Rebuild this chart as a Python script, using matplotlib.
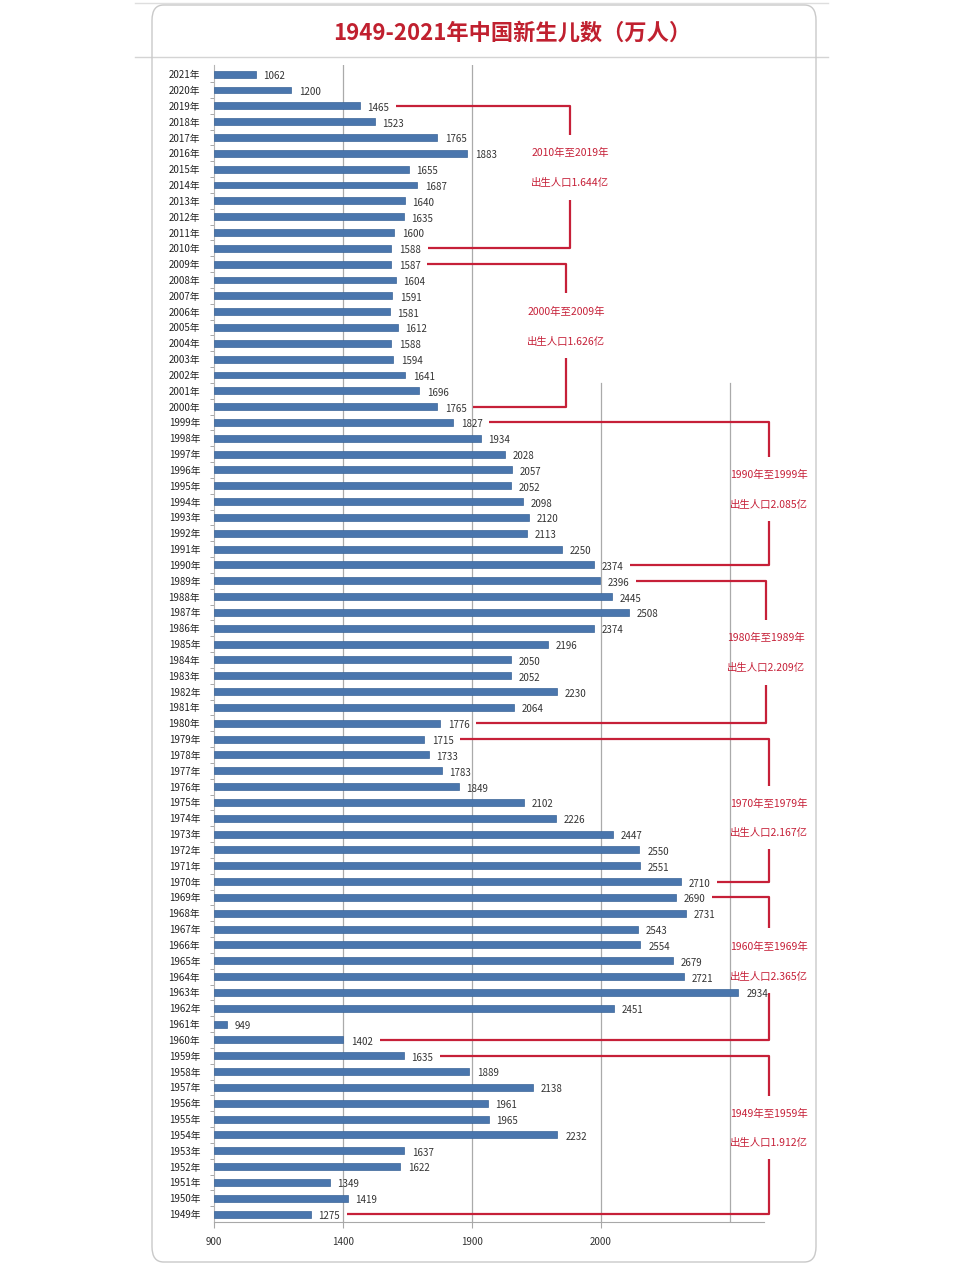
import matplotlib
matplotlib.use("Agg")
import matplotlib.pyplot as plt
from matplotlib.patches import FancyBboxPatch
from matplotlib.lines import Line2D
import numpy as np

plt.rcParams['font.family'] = ['Noto Sans CJK SC', 'DejaVu Sans']

# ---------------- data ----------------
years = list(range(1949, 2022))
births = [1275, 1419, 1349, 1622, 1637, 2232, 1965, 1961, 2138, 1889,
          1635, 1402, 949, 2451, 2934, 2721, 2679, 2554, 2543, 2731,
          2690, 2710, 2551, 2550, 2447, 2226, 2102, 1849, 1783, 1733,
          1715, 1776, 2064, 2230, 2052, 2050, 2196, 2374, 2508, 2445,
          2396, 2374, 2250, 2113, 2120, 2098, 2052, 2057, 2028, 1934,
          1827, 1765, 1696, 1641, 1594, 1588, 1612, 1581, 1591, 1604,
          1587, 1588, 1600, 1635, 1640, 1687, 1655, 1883, 1765, 1523,
          1465, 1200, 1062]
year_labels = [f"{y}年" for y in years]
xtick_values = [900, 1400, 1900, 2400]
xtick_labels = ["900", "1400", "1900", "2000"]
title = "1949-2021年中国新生儿数（万人）"

period_top = [2019, 2009, 1999, 1989, 1979, 1969, 1959]
period_bottom = [2010, 2000, 1990, 1980, 1970, 1960, 1949]
period_range_text = ["2010年至2019年", "2000年至2009年", "1990年至1999年",
                     "1980年至1989年", "1970年至1979年", "1960年至1969年",
                     "1949年至1959年"]
period_total_text = ["出生人口1.644亿", "出生人口1.626亿", "出生人口2.085亿",
                     "出生人口2.209亿", "出生人口2.167亿", "出生人口2.365亿",
                     "出生人口1.912亿"]

# ---------------- layout ----------------
W, H = 961, 1280
fig = plt.figure(figsize=(W / 100, H / 100), dpi=100)
fig.patch.set_facecolor("white")

def fx(px):
    return px / W

def fy(py):
    return 1 - py / H

# card outline
card = FancyBboxPatch((fx(152), fy(1262)), fx(816) - fx(152), fy(5) - fy(1262),
                      boxstyle="round,pad=0,rounding_size=0.012",
                      transform=fig.transFigure, facecolor="none",
                      edgecolor="#c9c9c9", linewidth=1.0, zorder=-1)
fig.patches.append(card)
fig.add_artist(Line2D([fx(135), fx(828)], [fy(57), fy(57)], transform=fig.transFigure,
                      color="#d4d4d4", lw=1.0, zorder=-1))
fig.add_artist(Line2D([fx(135), fx(828)], [fy(3), fy(3)], transform=fig.transFigure,
                      color="#dedede", lw=1.0, zorder=-1))

fig.text(fx(512), fy(33), title, ha="center", va="center", fontsize=16,
         fontweight="bold", color="#c0202f")

ax_left, ax_right, ax_top, ax_bottom = 214, 764, 65, 1222
ax = fig.add_axes([fx(ax_left), fy(ax_bottom), fx(ax_right) - fx(ax_left),
                   fy(ax_top) - fy(ax_bottom)])
ax.set_facecolor("none")

xmin, xmax = 900, 3033
ax.set_xlim(xmin, xmax)
ax.set_ylim(1948.5, 2021.58)

bar_h = 0.44
ax.barh(years, [b - xmin for b in births], left=xmin, height=bar_h,
        color="#4a76ad", edgecolor="#3b6598", linewidth=0.5, zorder=3)

for y, b in zip(years, births):
    ax.text(b + 30, y - 0.12, str(b), ha="left", va="center", fontsize=7,
            color="#333333", zorder=4)

ax.set_yticks(years)
ax.set_yticklabels(year_labels, fontsize=7, color="#222222")
ax.tick_params(axis="y", length=0, pad=10)
ax.set_yticks([y + 0.5 for y in years[:-1]], minor=True)
ax.tick_params(axis="y", which="minor", length=3, color="#9a9a9a", direction="out")

ax.set_xticks(xtick_values)
ax.set_xticklabels(xtick_labels, fontsize=7, color="#333333")
ax.tick_params(axis="x", length=4, color="#a8a8a8", pad=7)

# gridlines
grid_col = "#aaaaaa"
for gx in (1400, 1900):
    ax.axvline(gx, color=grid_col, lw=0.9, zorder=1)
for gx in (2400, 2900):
    ax.axvline(gx, ymin=0, ymax=(ax_bottom - 383) / (ax_bottom - ax_top),
               color=grid_col, lw=0.9, zorder=1)

for s in ("top", "right"):
    ax.spines[s].set_visible(False)
ax.spines["left"].set_color("#b5b5b5")
ax.spines["bottom"].set_color("#a8a8a8")
ax.spines["left"].set_linewidth(0.8)
ax.spines["bottom"].set_linewidth(0.8)

# brackets
red = "#c62038"
bracket_x = [2281, 2265, 3053, 3041, 3053, 3053, 3053]
text_line1 = [2016.0, 2006.0, 1995.7, 1985.4, 1974.9, 1965.9, 1955.3]
text_line2 = [2014.1, 2004.1, 1993.8, 1983.5, 1973.1, 1964.0, 1953.5]
birth_of = dict(zip(years, births))
for i in range(len(period_top)):
    top, bot, bx = period_top[i], period_bottom[i], bracket_x[i]
    t1, t2 = text_line1[i], text_line2[i]
    ax.plot([birth_of[top] + 140, bx, bx], [top, top, t1 + 1.15],
            color=red, lw=1.6, clip_on=False, zorder=5, solid_capstyle="butt")
    ax.plot([bx, bx, birth_of[bot] + 140], [t2 - 1.05, bot, bot],
            color=red, lw=1.6, clip_on=False, zorder=5, solid_capstyle="butt")
    ax.text(bx, t1, period_range_text[i], ha="center", va="center",
            fontsize=7.5, color=red, clip_on=False)
    ax.text(bx, t2, period_total_text[i], ha="center", va="center",
            fontsize=7.5, color=red, clip_on=False)

fig.savefig("out.png", dpi=100, facecolor="white")
